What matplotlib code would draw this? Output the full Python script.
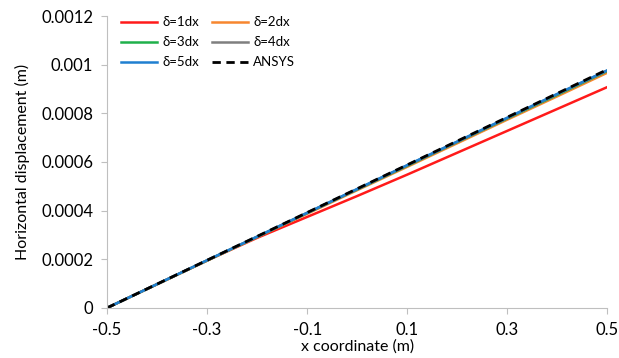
import matplotlib
matplotlib.use("Agg")
import matplotlib.pyplot as plt

# data
x = [-0.5, -0.4, -0.3, -0.2, -0.1, 0.0, 0.1, 0.2, 0.3, 0.4, 0.5]
d1 = [0, 0.0000975, 0.000195, 0.000288, 0.000374, 0.000460,
      0.000548, 0.000638, 0.000728, 0.000818, 0.000908]
d2 = [0, 0.0000970, 0.000194, 0.000291, 0.000387, 0.000484,
      0.000580, 0.000677, 0.000774, 0.000870, 0.000967]
d3 = [0, 0.0000975, 0.000195, 0.000292, 0.000390, 0.000487,
      0.000584, 0.000682, 0.000779, 0.000876, 0.000974]
d4 = [0, 0.0000977, 0.000195, 0.000293, 0.000391, 0.000488,
      0.000586, 0.000683, 0.000781, 0.000879, 0.000976]
d5 = [0, 0.0000978, 0.000196, 0.000293, 0.000391, 0.000489,
      0.000587, 0.000684, 0.000782, 0.000880, 0.000977]
ansys = [0, 0.0000980, 0.000196, 0.000294, 0.000392, 0.000490,
         0.000588, 0.000686, 0.000784, 0.000882, 0.000980]

plt.rcParams["font.family"] = ["Lato", "DejaVu Sans"]

fig = plt.figure(figsize=(6.19, 3.58), dpi=100)
ax = fig.add_axes([0.173, 0.14, 0.808, 0.815])

l1, = ax.plot(x, d1, color="#ff1a1a", lw=1.8, label="δ=1dx")
l2, = ax.plot(x, d2, color="#f7862f", lw=1.8, label="δ=2dx")
l3, = ax.plot(x, d3, color="#1fb04a", lw=1.8, label="δ=3dx")
l4, = ax.plot(x, d4, color="#7f7f7f", lw=1.8, label="δ=4dx")
l5, = ax.plot(x, d5, color="#1f7fd0", lw=1.8, label="δ=5dx")
l6, = ax.plot(x, ansys, color="black", lw=2, ls=(0, (3, 2)), label="ANSYS")

ax.set_xlim(-0.5, 0.5)
ax.set_ylim(0, 0.0012)
ax.set_xticks([-0.5, -0.3, -0.1, 0.1, 0.3, 0.5])
ax.set_xticklabels(["-0.5", "-0.3", "-0.1", "0.1", "0.3", "0.5"])
ax.set_yticks([0, 0.0002, 0.0004, 0.0006, 0.0008, 0.001, 0.0012])
ax.set_yticklabels(["0", "0.0002", "0.0004", "0.0006", "0.0008", "0.001", "0.0012"])
ax.tick_params(labelsize=12, length=4, color="#bfbfbf", pad=6)

for s in ["top", "right"]:
    ax.spines[s].set_visible(False)
for s in ["left", "bottom"]:
    ax.spines[s].set_color("#bfbfbf")

ax.set_xlabel("x coordinate (m)", fontsize=11.5, labelpad=1)
ax.set_ylabel("Horizontal displacement (m)", fontsize=11.5, labelpad=8)

# legend filled row by row, like the original
handles = [l1, l3, l5, l2, l4, l6]
ax.legend(handles, [h.get_label() for h in handles],
          loc="upper left", ncol=2, frameon=False, fontsize=9.5,
          handlelength=2.7, handletextpad=0.4, columnspacing=1.0,
          labelspacing=0.6, bbox_to_anchor=(0.005, 1.04))

fig.savefig("out.png", dpi=100)
